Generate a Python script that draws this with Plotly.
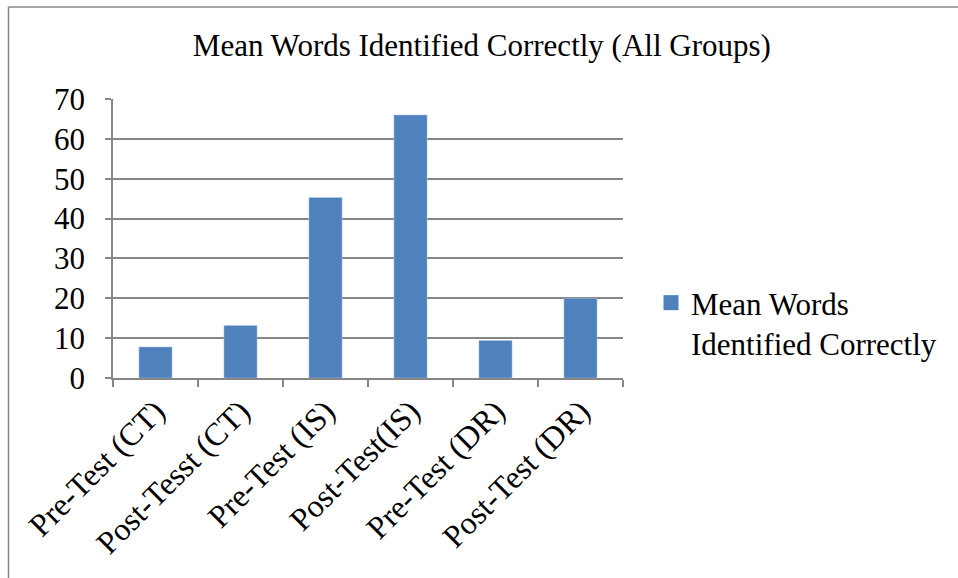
import plotly.graph_objects as go

categories = ["Pre-Test (CT)", "Post-Tesst (CT)", "Pre-Test (IS)", "Post-Test(IS)", "Pre-Test (DR)", "Post-Test (DR)"]
values = [7.8, 13.2, 45.3, 66.0, 9.4, 20.0]
series_name = "Mean Words<br>Identified Correctly"
title_text = "Mean Words Identified Correctly (All Groups)"

W, H = 958, 578
L, R, T, B = 113, 623, 99, 378

def px(x):
    return (x - L) / (R - L)

def py(y):
    return (B - y) / (B - T)

FONT = "Liberation Serif, Times New Roman, serif"
GRAY = "#868686"
BAR = "#4F81BD"

fig = go.Figure()
fig.add_trace(go.Bar(
    x=categories, y=values, name=series_name,
    marker=dict(color=BAR, line=dict(color="#B9CDE5", width=0.5)),
    width=0.39, showlegend=False,
))
# legend entry with a larger square key
fig.add_trace(go.Scatter(
    x=[None], y=[None], mode="markers", name=series_name,
    marker=dict(symbol="square", size=15, color=BAR), showlegend=True,
))

fig.update_layout(
    width=W, height=H,
    margin=dict(l=L, r=W - R, t=T, b=H - B, autoexpand=False),
    paper_bgcolor="white", plot_bgcolor="white",
    font=dict(family=FONT, color="black"),
    title=dict(text=title_text, x=0.503, xref="container", xanchor="center",
               y=1 - 45 / H, yref="container", yanchor="middle",
               font=dict(family=FONT, size=31, color="black")),
    showlegend=True,
    legend=dict(x=px(651), y=py(276), xanchor="left", yanchor="top",
                font=dict(family=FONT, size=31, color="black"),
                valign="top", itemwidth=30, bgcolor="rgba(0,0,0,0)",
                tracegroupgap=0),
    bargap=0.6,
    xaxis=dict(
        type="category", showgrid=False, showline=True, linecolor=GRAY, linewidth=1.5,
        ticks="outside", tickson="boundaries", ticklen=7, tickcolor=GRAY, tickwidth=1.5,
        tickangle=-45, tickfont=dict(family=FONT, size=32, color="black"),
        fixedrange=True,
    ),
    yaxis=dict(
        range=[0, 70], dtick=10, tick0=0, showgrid=True, gridcolor=GRAY, gridwidth=1.5,
        showline=True, linecolor=GRAY, linewidth=1.5, ticks="outside", ticklen=6,
        tickcolor=GRAY, tickwidth=1.5, zeroline=False, ticklabelstandoff=14,
        tickfont=dict(family=FONT, size=31, color="black"),
        fixedrange=True,
    ),
    shapes=[
        dict(type="line", xref="paper", yref="paper", x0=px(8.5), x1=px(8.5), y0=py(7), y1=py(H + 5),
             line=dict(color=GRAY, width=1.5)),
        dict(type="line", xref="paper", yref="paper", x0=px(8.5), x1=px(W + 5), y0=py(7), y1=py(7),
             line=dict(color=GRAY, width=1.5)),
    ],
)

fig.write_html("out.html", config={"displayModeBar": False},
               post_script="document.body.style.margin='0';document.body.style.overflow='hidden';")
